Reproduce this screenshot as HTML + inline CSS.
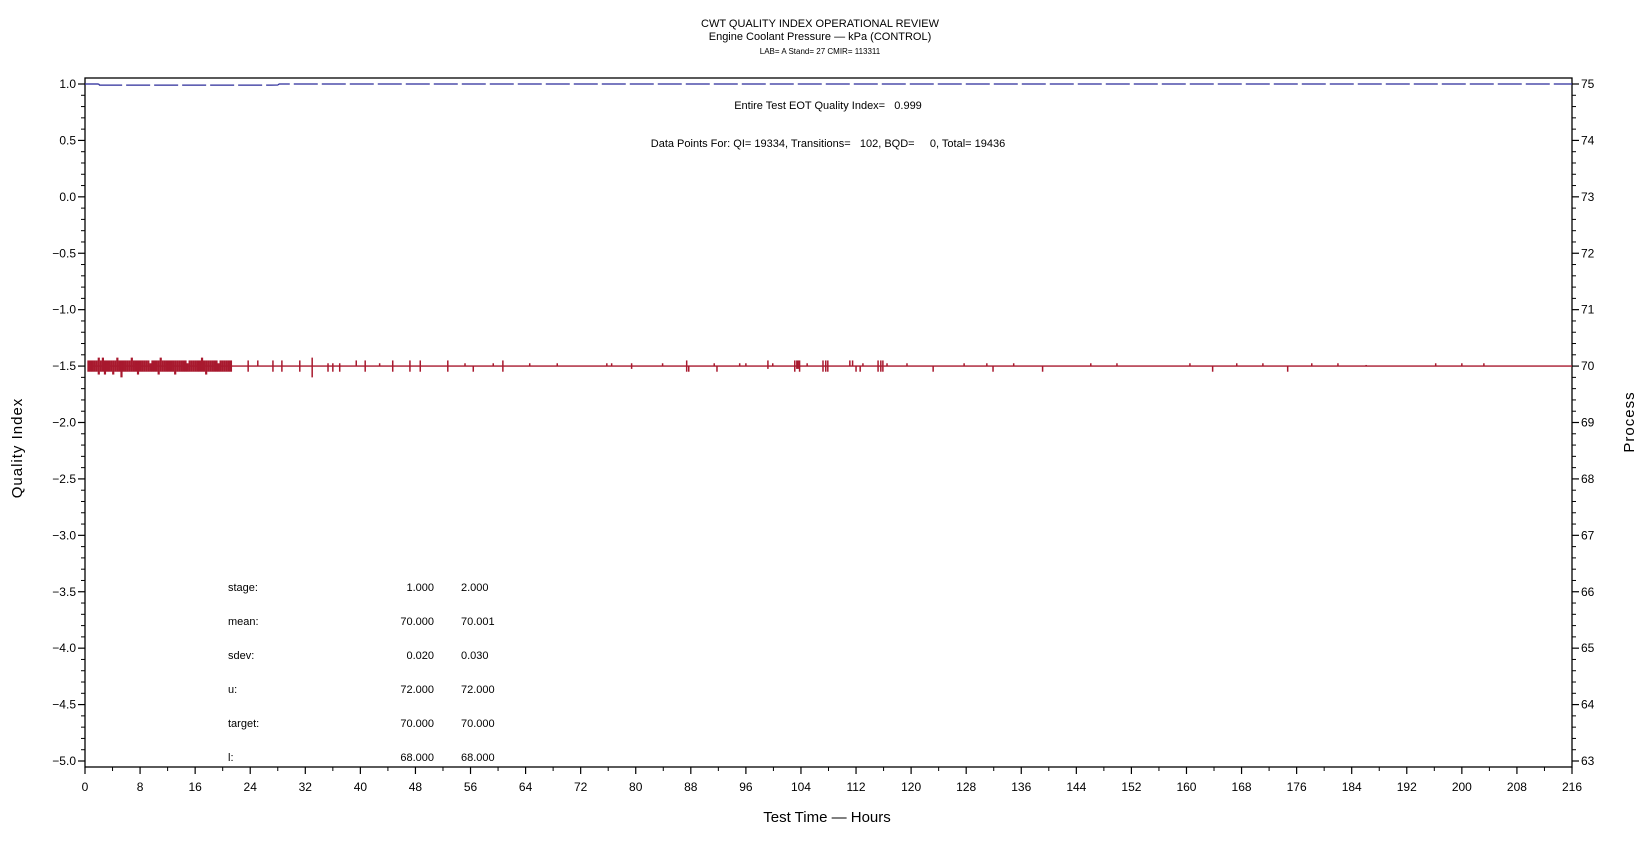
<!DOCTYPE html>
<html><head><meta charset="utf-8">
<style>
html,body{margin:0;padding:0;background:#fff;}
svg{display:block;font-family:"Liberation Sans",sans-serif;}
</style></head>
<body>
<svg id="chart" width="1648" height="845" viewBox="0 0 1648 845" xmlns="http://www.w3.org/2000/svg">
<g text-anchor="middle" fill="#000">
<text x="820" y="27" font-size="11">CWT QUALITY INDEX OPERATIONAL REVIEW</text>
<text x="820" y="40" font-size="11">Engine Coolant Pressure — kPa (CONTROL)</text>
<text x="820" y="54" font-size="8">LAB= A Stand= 27 CMIR= 113311</text>
</g>
<text x="828" y="109" font-size="11" text-anchor="middle" xml:space="preserve">Entire Test EOT Quality Index=   0.999</text>
<text x="828" y="147" font-size="11" text-anchor="middle" xml:space="preserve">Data Points For: QI= 19334, Transitions=   102, BQD=     0, Total= 19436</text>
<g id="axes"></g>
<g id="series"></g>
<g id="stats" font-size="11"></g>
<text transform="translate(22,448) rotate(-90)" font-size="15" text-anchor="middle" letter-spacing="1">Quality Index</text>
<text transform="translate(1634,422) rotate(-90)" font-size="15" text-anchor="middle" letter-spacing="1">Process</text>
<text x="827" y="822" font-size="15" text-anchor="middle">Test Time — Hours</text>
</svg>
<script>
// ---- data ----
const xTicks = [0,8,16,24,32,40,48,56,64,72,80,88,96,104,112,120,128,136,144,152,160,168,176,184,192,200,208,216];
const yTicks = [1.0,0.5,0.0,-0.5,-1.0,-1.5,-2.0,-2.5,-3.0,-3.5,-4.0,-4.5,-5.0];
const y2Ticks = [75,74,73,72,71,70,69,68,67,66,65,64,63];
const qiHours = [0,2,2.1,10,20,27,28,28.2,216];
const qiValues = [1.0,1.0,0.999,0.999,0.999,0.999,0.9993,1.0,1.0];
const processTarget = 70;
const spikeHours = [0.5,0.8,1.1,1.4,1.7,2.0,2.3,2.6,2.9,3.2,3.5,3.8,4.1,4.4,4.7,5.0,5.3,5.6,5.9,6.2,6.5,6.8,7.1,7.4,7.7,8.0,8.3,8.6,8.9,9.2,9.5,9.8,10.1,10.4,10.7,11.0,11.3,11.6,11.9,12.2,12.5,12.8,13.1,13.4,13.7,14.0,14.3,14.6,14.9,15.2,15.5,15.8,16.1,16.4,16.7,17.0,17.3,17.6,17.9,18.2,18.5,18.8,19.1,19.4,19.7,20.0,20.3,20.6,20.9,21.2,
23.7,25.1,27.3,28.6,31.2,33.0,35.3,36.0,37.0,39.4,40.7,42.8,44.7,47.2,48.7,52.7,55.2,56.4,59.3,60.7,64.6,68.6,75.8,76.5,79.4,83.9,87.4,87.7,91.4,91.8,95.1,96.0,99.2,99.9,103.1,103.4,103.6,103.8,104.9,107.2,107.6,107.9,111.1,111.5,112.0,112.6,113.0,115.2,115.6,115.9,116.5,119.4,123.2,127.7,131.0,131.9,134.9,139.1,146.1,149.9,160.5,163.8,167.3,171.1,174.7,178.2,182.0,186.1,196.2,200.0,203.2];
const spikeHigh = [70.1,70.1,70.1,70.1,70.1,70.15,70.1,70.15,70.1,70.1,70.1,70.1,70.1,70.1,70.15,70.1,70.1,70.1,70.1,70.1,70.1,70.15,70.1,70.1,70.1,70.1,70.1,70.1,70.1,70.1,70.05,70.1,70.1,70.1,70.1,70.15,70.1,70.1,70.1,70.1,70.1,70.1,70.1,70.1,70.1,70.1,70.1,70.1,70.05,70.1,70.1,70.1,70.1,70.1,70.1,70.15,70.1,70.1,70.1,70.1,70.1,70.1,70.1,70.05,70.1,70.1,70.1,70.1,70.1,70.1,
70.1,70.1,70.1,70.1,70.1,70.15,70.05,70.05,70.05,70.1,70.1,70.05,70.1,70.1,70.1,70.1,70.05,70.0,70.05,70.1,70.05,70.05,70.05,70.05,70.05,70.05,70.1,70.0,70.05,70.0,70.05,70.05,70.1,70.05,70.1,70.1,70.1,70.1,70.05,70.1,70.1,70.1,70.1,70.1,70.0,70.0,70.05,70.1,70.1,70.1,70.05,70.05,70.0,70.05,70.05,70.0,70.05,70.0,70.05,70.05,70.05,70.0,70.05,70.05,70.0,70.05,70.05,70.02,70.05,70.05,70.05];
const spikeLow = [69.9,69.9,69.9,69.9,69.9,69.85,69.9,69.9,69.85,69.9,69.9,69.9,69.85,69.9,69.9,69.9,69.8,69.9,69.9,69.9,69.9,69.9,69.9,69.9,69.85,69.9,69.9,69.9,69.9,69.9,69.9,69.9,69.9,69.9,69.85,69.9,69.9,69.9,69.9,69.9,69.9,69.9,69.85,69.9,69.9,69.9,69.9,69.9,69.9,69.9,69.9,69.9,69.9,69.9,69.9,69.9,69.9,69.85,69.9,69.9,69.9,69.9,69.9,69.9,69.9,69.9,69.9,69.9,69.9,69.9,
69.9,70.0,69.9,69.9,69.9,69.8,69.9,69.9,69.9,70.0,69.9,70.0,69.9,69.9,69.9,69.9,70.0,69.9,70.0,69.9,70.0,70.0,70.0,70.0,69.95,70.0,69.9,69.9,70.0,69.9,70.0,70.0,69.95,70.0,69.9,69.95,69.95,69.9,70.0,69.9,69.9,69.9,70.0,70.0,69.9,69.9,70.0,69.9,69.9,69.9,70.0,70.0,69.9,70.0,70.0,69.9,70.0,69.9,70.0,70.0,70.0,69.9,70.0,70.0,69.9,70.0,70.0,70.0,70.0,70.0,70.0];
const statLabels = ["stage:","mean:","sdev:","u:","target:","l:"];
const statCol1 = ["1.000","70.000","0.020","72.000","70.000","68.000"];
const statCol2 = ["2.000","70.001","0.030","72.000","70.000","68.000"];

// ---- scales ----
const PL=85, PR=1572, PT=78, PB=767;
const xS = h => PL + (h/216)*(PR-PL);
const yS = v => 84 + (1.0 - v)/6.0*(761-84);
const y2S = v => 84 + (75 - v)/12*(761-84);
const NS="http://www.w3.org/2000/svg";
function mk(tag, attrs, parent){const e=document.createElementNS(NS,tag);for(const k in attrs)e.setAttribute(k,attrs[k]);parent.appendChild(e);return e;}
const axes=document.getElementById('axes'), series=document.getElementById('series'), stats=document.getElementById('stats');

// frame
const frame=mk('rect',{x:PL,y:PT,width:PR-PL,height:PB-PT,fill:'none',stroke:'#000','stroke-width':1.3},axes);



// x ticks
xTicks.forEach((t,i)=>{
  const x=xS(t);
  const tk=mk('line',{x1:x,y1:PB,x2:x,y2:PB+7,stroke:'#000','stroke-width':1.2},axes);
  
  
  const lb=mk('text',{x:x,y:PB+24,'font-size':12,'text-anchor':'middle'},axes);
  lb.textContent=t;
  
  
  if(i<xTicks.length-1){
    const xm=xS(t+4);
    const mt=mk('line',{x1:xm,y1:PB,x2:xm,y2:PB+4,stroke:'#000','stroke-width':1},axes);
    
    
  }
});
// left y ticks
yTicks.forEach((t,i)=>{
  const y=yS(t);
  const tk=mk('line',{x1:PL-7,y1:y,x2:PL,y2:y,stroke:'#000','stroke-width':1.2},axes);
  
  
  const lb=mk('text',{x:PL-9,y:y+4,'font-size':12,'text-anchor':'end'},axes);
  lb.textContent=(t<0?'\u2212':'')+Math.abs(t).toFixed(1);
  
  
  if(i<yTicks.length-1){
    for(let k=1;k<5;k++){
      const ym=yS(t-0.1*k);
      const mt=mk('line',{x1:PL-4,y1:ym,x2:PL,y2:ym,stroke:'#000','stroke-width':1},axes);
      
      
    }
  }
});
// right y ticks
y2Ticks.forEach((t,i)=>{
  const y=y2S(t);
  const tk=mk('line',{x1:PR,y1:y,x2:PR+7,y2:y,stroke:'#000','stroke-width':1.2},axes);
  
  
  const lb=mk('text',{x:PR+9,y:y+4,'font-size':12,'text-anchor':'start'},axes);
  lb.textContent=t;
  
  
  if(i<y2Ticks.length-1){
    for(let k=1;k<5;k++){
      const ym=y2S(t-0.2*k);
      const mt=mk('line',{x1:PR,y1:ym,x2:PR+4,y2:ym,stroke:'#000','stroke-width':1},axes);
      
      
    }
  }
});

// QI line (blue)
const qiFirst=mk('polyline',{points:qiHours.slice(0,2).map((h,i)=>xS(h)+','+yS(qiValues[i])).join(' '),fill:'none',stroke:'#2b2b9a','stroke-width':1.3},series);


const qiLine=mk('polyline',{points:qiHours.slice(1).map((h,i)=>xS(h)+','+(yS(qiValues[i+1])+(qiValues[i+1]<1?1:0))).join(' '),fill:'none',stroke:'#2b2b9a','stroke-width':1.2,'stroke-dasharray':'24 4'},series);



// process baseline (red)
const base=mk('line',{x1:xS(0.4),y1:y2S(processTarget),x2:xS(216),y2:y2S(processTarget),stroke:'#a8192e','stroke-width':1.4},series);


spikeHours.forEach((h,i)=>{
  const x=xS(h);
  const s=mk('line',{x1:x,y1:y2S(spikeHigh[i]),x2:x,y2:y2S(spikeLow[i]),stroke:'#a8192e','stroke-width':h<22?2.2:1.5},series);
  
  
});

// stats table
statLabels.forEach((l,i)=>{
  const y=591+i*34;
  const a=mk('text',{x:228,y:y},stats); a.textContent=l;
  
  
  const b=mk('text',{x:434,y:y,'text-anchor':'end'},stats); b.textContent=statCol1[i];
  
  
  const c=mk('text',{x:461,y:y},stats); c.textContent=statCol2[i];
  
  
});
</script>
</body></html>
